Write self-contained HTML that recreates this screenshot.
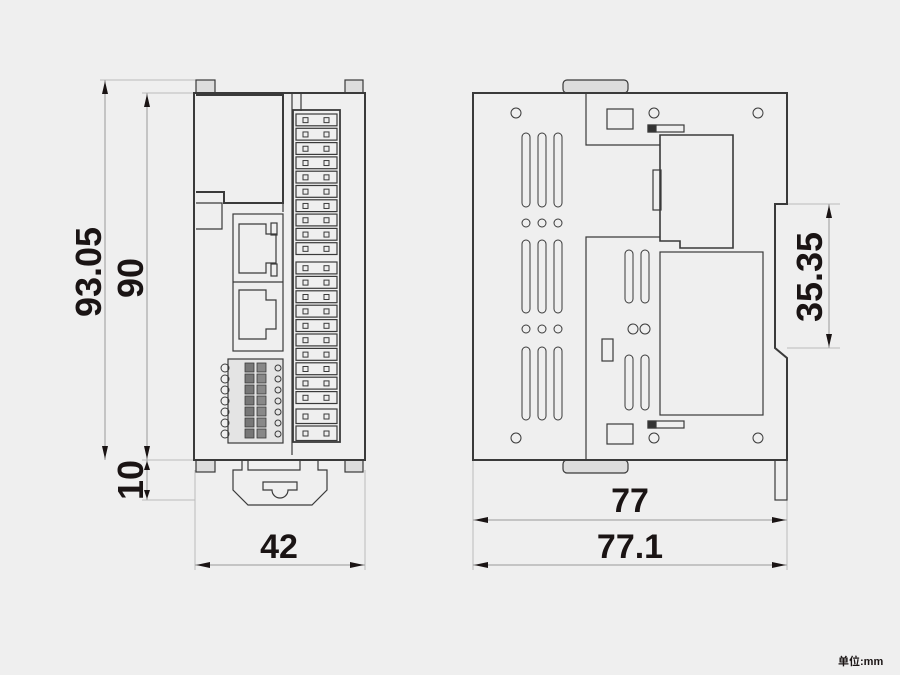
<!DOCTYPE html>
<html><head><meta charset="utf-8"><style>
html,body{margin:0;padding:0;background:#efefef;}
svg{display:block}
text{font-family:"Liberation Sans","Noto Sans CJK SC",sans-serif;font-weight:bold;fill:#1a1414}
</style></head><body>
<svg id="s" width="900" height="675" viewBox="0 0 900 675" xmlns="http://www.w3.org/2000/svg">
<rect width="900" height="675" fill="#efefef"/>
<g fill="none" stroke="#bbb" stroke-width="1">
<line x1="100" y1="80" x2="196" y2="80"/><line x1="142" y1="93" x2="193" y2="93"/>
<line x1="142" y1="460" x2="193" y2="460"/><line x1="142" y1="500" x2="195" y2="500"/>
<line x1="195" y1="470" x2="195" y2="570"/><line x1="365" y1="470" x2="365" y2="570"/>
<line x1="473" y1="460" x2="473" y2="570"/><line x1="787" y1="500" x2="787" y2="570"/>
<line x1="787" y1="204" x2="840" y2="204"/><line x1="787" y1="348" x2="840" y2="348"/>
</g>
<g stroke="#999" stroke-width="1">
<line x1="105" y1="80" x2="105" y2="460"/><line x1="147" y1="93" x2="147" y2="500"/>
<line x1="195" y1="565" x2="365" y2="565"/><line x1="473" y1="520" x2="787" y2="520"/>
<line x1="473" y1="565" x2="787" y2="565"/><line x1="829" y1="204" x2="829" y2="348"/>
</g>
<g fill="#1a1414">
<polygon points="105,81 102,94 108,94"/><polygon points="105,459 102,446 108,446"/>
<polygon points="147,94 144,107 150,107"/><polygon points="147,459 144,446 150,446"/>
<polygon points="147,461 144,470 150,470"/><polygon points="147,499 144,490 150,490"/>
<polygon points="196,565 210,562 210,568"/><polygon points="364,565 350,562 350,568"/>
<polygon points="474,520 488,517 488,523"/><polygon points="786,520 772,517 772,523"/>
<polygon points="474,565 488,562 488,568"/><polygon points="786,565 772,562 772,568"/>
<polygon points="829,205 826,218 832,218"/><polygon points="829,347 826,334 832,334"/>
</g>
<text x="0" y="0" font-size="36" text-anchor="middle" transform="translate(101,272) rotate(-90)">93.05</text>
<text x="0" y="0" font-size="36" text-anchor="middle" transform="translate(143,278) rotate(-90)">90</text>
<text x="0" y="0" font-size="36" text-anchor="middle" transform="translate(143,480) rotate(-90)">10</text>
<text x="0" y="0" font-size="36" text-anchor="middle" transform="translate(822,277) rotate(-90)">35.35</text>
<text x="279" y="558" font-size="34" text-anchor="middle">42</text>
<text x="630" y="512" font-size="34" text-anchor="middle">77</text>
<text x="630" y="558" font-size="34" text-anchor="middle">77.1</text>
<text x="838" y="665" font-size="11">单位:mm</text>
<g id="draw" fill="none" stroke="#3a3a3a" stroke-width="1.2">
<rect x="196" y="80" width="19" height="13" fill="#ddd"/><rect x="345" y="80" width="18" height="13" fill="#ddd"/>
<rect x="196" y="460" width="19" height="12" fill="#ddd"/><rect x="345" y="460" width="18" height="12" fill="#ddd"/>
<rect x="194" y="93" width="171" height="367" stroke-width="2"/>
<polyline points="196,95 283,95 283,203 224,203 224,192 196,192" stroke-width="2"/>
<polyline points="196,203 222,203 222,229 196,229"/>
<line x1="283" y1="93" x2="283" y2="212"/><line x1="292" y1="93" x2="292" y2="455"/><line x1="301" y1="93" x2="301" y2="111"/>
<rect x="293" y="110" width="47" height="332" stroke-width="1.8"/>
<rect x="233" y="214" width="50" height="137"/>
<path d="M239,224 H266 V234 H276 V263 H266 V273 H239 Z"/>
<path d="M239,290 H266 V300 H276 V329 H266 V339 H239 Z"/>
<rect x="271" y="223" width="6" height="12"/><rect x="271" y="264" width="6" height="12"/>
<line x1="233" y1="282" x2="283" y2="282"/>
<rect x="228" y="359" width="55" height="84" fill="#e4e4e4"/>
<path d="M242,460 V470 H233 V490 L248,505 H312 L327,490 V470 H318 V460"/>
<path d="M248,460 V470 H300 V460"/>
<path d="M263,482 H297 V490 H288 A8,8 0 0 1 272,490 H263 Z"/>
<rect x="563" y="80" width="65" height="13" rx="4" fill="#ddd"/><rect x="563" y="460" width="65" height="13" rx="4" fill="#ddd"/>
<path d="M473,93 H787 V204 H775 V348 L787,358 V460 H473 Z" stroke-width="2"/>
<polyline points="586,93 586,145 660,145"/><polyline points="586,460 586,237 660,237"/>
<path d="M660,135 H733 V248 H680 V241 H660 Z" stroke-width="1.6"/>
<rect x="653" y="170" width="8" height="40"/>
<rect x="660" y="252" width="103" height="163"/>
<rect x="607" y="109" width="26" height="20"/><rect x="607" y="424" width="26" height="20"/>
<rect x="648" y="125" width="36" height="7"/><rect x="648" y="421" width="36" height="7"/>
<rect x="648" y="125" width="8" height="7" fill="#333"/><rect x="648" y="421" width="8" height="7" fill="#333"/>
<rect x="602" y="339" width="11" height="22"/>
<rect x="775" y="460" width="12" height="40"/>
</g>
</svg>
<script>
var s=document.getElementById('draw'),ns='http://www.w3.org/2000/svg';
function el(t,a){var e=document.createElementNS(ns,t);for(var k in a)e.setAttribute(k,a[k]);s.appendChild(e);return e;}
function rows(y0,n,h){for(var i=0;i<n;i++){var y=y0+i*h;el('rect',{x:296,y:y+1,width:41,height:h-2.5});
el('rect',{x:303,y:y+h/2-2.5,width:5,height:5,'stroke-width':1});el('rect',{x:324,y:y+h/2-2.5,width:5,height:5,'stroke-width':1});}}
rows(113,10,14.3);rows(261,10,14.4);rows(408,2,17);
for(var i=0;i<7;i++){var y=363+i*11;el('rect',{x:245,y:y,width:9,height:9,fill:'#777','stroke-width':.8});el('rect',{x:257,y:y,width:9,height:9,fill:'#888','stroke-width':.8});
el('circle',{cx:225,cy:y+5,r:4,'stroke-width':1});el('circle',{cx:278,cy:y+5,r:3,'stroke-width':1});}
[[516,113],[758,113],[516,438],[758,438],[654,113],[654,438],[633,329],[645,329]].forEach(function(c){el('circle',{cx:c[0],cy:c[1],r:5,'stroke-width':1});});
[526,542,558].forEach(function(x){[[133,207],[240,313],[347,420]].forEach(function(r){el('rect',{x:x-4,y:r[0],width:8,height:r[1]-r[0],rx:4,'stroke-width':1});});
[223,329].forEach(function(y){el('circle',{cx:x,cy:y,r:4,'stroke-width':1});});});
[629,645].forEach(function(x){[[250,303],[355,410]].forEach(function(r){el('rect',{x:x-4,y:r[0],width:8,height:r[1]-r[0],rx:4,'stroke-width':1});});});
</script>
</body></html>
